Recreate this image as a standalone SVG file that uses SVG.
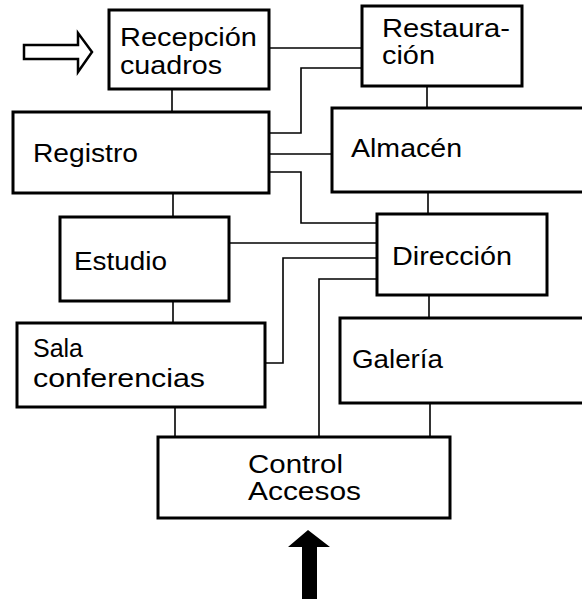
<svg xmlns="http://www.w3.org/2000/svg" width="582" height="599" viewBox="0 0 582 599">
<style>
.box{fill:#fff;stroke:#000;stroke-width:3}
.c{fill:none;stroke:#000;stroke-width:1.6}
text{font-family:"Liberation Sans",Arial,sans-serif;font-size:25px;fill:#000}
</style>
<rect width="582" height="599" fill="#fff"/>
<g id="connectors">
<polyline class="c" points="172,89 172,112"/>
<polyline class="c" points="173,193 173,217"/>
<polyline class="c" points="173,301 173,323"/>
<polyline class="c" points="427,86 427,108"/>
<polyline class="c" points="428,192 428,214"/>
<polyline class="c" points="429,295 429,318"/>
<polyline class="c" points="269,48 362,48"/>
<polyline class="c" points="362,68 301,68 301,133 269,133"/>
<polyline class="c" points="269,154 332,154"/>
<polyline class="c" points="269,172 301,172 301,223 377,223"/>
<polyline class="c" points="229,243 377,243"/>
<polyline class="c" points="265,363 283,363 283,258 377,258"/>
<polyline class="c" points="377,279 319,279 319,437"/>
<polyline class="c" points="175,407 175,437"/>
<polyline class="c" points="430,403 430,437"/>
</g>
<g id="arrow-in">
<polygon points="24,45 78,45 78,33 92,52 78,72 78,59 24,59" fill="#fff" stroke="#000" stroke-width="2.5" stroke-linejoin="miter"/>
</g>
<g id="arrow-up">
<polygon points="308,530 330,547 317,547 317,599 302,599 302,547 288,547" fill="#000"/>
</g>
<g id="recepcion">
<rect class="box" x="109" y="10" width="160" height="79"/>
<text x="120" y="46" textLength="137" lengthAdjust="spacingAndGlyphs">Recepción</text>
<text x="120" y="74" textLength="102" lengthAdjust="spacingAndGlyphs">cuadros</text>
</g>
<g id="restauracion">
<rect class="box" x="362" y="6" width="160" height="80"/>
<text x="382" y="37" textLength="128" lengthAdjust="spacingAndGlyphs">Restaura-</text>
<text x="382" y="64" textLength="53" lengthAdjust="spacingAndGlyphs">ción</text>
</g>
<g id="registro">
<rect class="box" x="13" y="112" width="256" height="81"/>
<text x="33" y="162" textLength="105" lengthAdjust="spacingAndGlyphs">Registro</text>
</g>
<g id="almacen">
<rect class="box" x="332" y="108" width="270" height="84"/>
<text x="351" y="157" textLength="111" lengthAdjust="spacingAndGlyphs">Almacén</text>
</g>
<g id="estudio">
<rect class="box" x="60" y="217" width="169" height="84"/>
<text x="74" y="270" textLength="93" lengthAdjust="spacingAndGlyphs">Estudio</text>
</g>
<g id="direccion">
<rect class="box" x="377" y="214" width="170" height="81"/>
<text x="392" y="265" textLength="120" lengthAdjust="spacingAndGlyphs">Dirección</text>
</g>
<g id="sala">
<rect class="box" x="17" y="323" width="248" height="84"/>
<text x="33" y="357" textLength="50" lengthAdjust="spacingAndGlyphs">Sala</text>
<text x="33" y="387" textLength="172" lengthAdjust="spacingAndGlyphs">conferencias</text>
</g>
<g id="galeria">
<rect class="box" x="340" y="318" width="262" height="85"/>
<text x="352" y="368" textLength="91" lengthAdjust="spacingAndGlyphs">Galería</text>
</g>
<g id="control">
<rect class="box" x="158" y="437" width="292" height="81"/>
<text x="248" y="473" textLength="95" lengthAdjust="spacingAndGlyphs">Control</text>
<text x="248" y="500" textLength="113" lengthAdjust="spacingAndGlyphs">Accesos</text>
</g>
</svg>
